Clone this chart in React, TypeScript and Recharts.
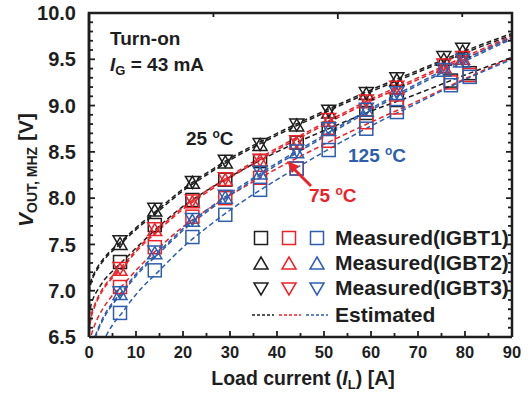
import React from "react";
import { ComposedChart, Line, Scatter, XAxis, YAxis } from "recharts";

// measured load currents [A]
const triCurrent = [6.6, 14, 22, 29, 36.4, 44.2, 51, 59, 65.5, 75.5, 79.5];
const sqCurrent = [6.6, 14, 22, 29, 36.4, 44.2, 51, 59, 65.5, 77, 81];

// measured V_OUT,MHZ [V]  (1 = IGBT1 squares, 2 = IGBT2 up-tri, 3 = IGBT3 down-tri)
const black1 = [7.31, 7.71, 7.98, 8.2, 8.4, 8.6, 8.75, 8.92, 9.06, 9.27, 9.35];
const black2 = [7.5, 7.86, 8.16, 8.38, 8.57, 8.78, 8.92, 9.12, 9.27, 9.49, 9.58];
const black3 = [7.54, 7.89, 8.18, 8.41, 8.59, 8.8, 8.95, 9.14, 9.3, 9.53, 9.62];
const red1 = [7.04, 7.47, 7.8, 8.0, 8.22, 8.32, 8.62, 8.82, 8.98, 9.25, 9.33];
const red2 = [7.22, 7.65, 7.95, 8.19, 8.4, 8.59, 8.83, 9.03, 9.18, 9.41, 9.5];
const red3 = [7.25, 7.68, 7.98, 8.22, 8.42, 8.62, 8.86, 9.06, 9.21, 9.45, 9.53];
const blue1 = [6.76, 7.22, 7.58, 7.82, 8.09, 8.32, 8.52, 8.75, 8.93, 9.22, 9.31];
const blue2 = [6.96, 7.4, 7.75, 8.0, 8.26, 8.49, 8.73, 8.94, 9.12, 9.37, 9.47];
const blue3 = [6.99, 7.43, 7.78, 8.03, 8.29, 8.52, 8.76, 8.97, 9.15, 9.4, 9.5];

// estimated curves
const estCurrent = [0, 0.5, 1, 2, 3, 5, 7, 10, 15, 20, 25, 30, 40, 50, 60, 70, 80, 90];
const estBlack1 = [6.72, 6.86, 6.93, 7.02, 7.1, 7.21, 7.31, 7.46, 7.7, 7.91, 8.08, 8.23, 8.5, 8.73, 8.94, 9.13, 9.33, 9.52];
const estBlack2 = [6.97, 7.1, 7.16, 7.25, 7.32, 7.43, 7.52, 7.66, 7.87, 8.08, 8.25, 8.41, 8.68, 8.92, 9.15, 9.36, 9.57, 9.76];
const estBlack3 = [6.99, 7.12, 7.18, 7.27, 7.34, 7.45, 7.54, 7.68, 7.89, 8.1, 8.27, 8.43, 8.7, 8.94, 9.17, 9.38, 9.59, 9.78];
const estRed1 = [6.35, 6.52, 6.6, 6.72, 6.81, 6.95, 7.05, 7.22, 7.47, 7.69, 7.87, 8.03, 8.32, 8.58, 8.82, 9.05, 9.29, 9.52];
const estRed2 = [6.55, 6.72, 6.8, 6.92, 7.01, 7.14, 7.24, 7.42, 7.66, 7.88, 8.06, 8.22, 8.52, 8.79, 9.05, 9.28, 9.51, 9.73];
const estRed3 = [6.57, 6.74, 6.82, 6.94, 7.03, 7.16, 7.26, 7.44, 7.68, 7.9, 8.08, 8.24, 8.54, 8.81, 9.07, 9.3, 9.53, 9.75];
const estBlue1 = [5.85, 6.07, 6.17, 6.33, 6.45, 6.63, 6.76, 6.96, 7.22, 7.47, 7.68, 7.87, 8.2, 8.5, 8.78, 9.03, 9.28, 9.5];
const estBlue2 = [6.15, 6.35, 6.44, 6.58, 6.69, 6.85, 6.97, 7.16, 7.41, 7.65, 7.85, 8.03, 8.36, 8.66, 8.95, 9.22, 9.48, 9.72];
const estBlue3 = [6.17, 6.37, 6.46, 6.6, 6.71, 6.87, 6.99, 7.18, 7.43, 7.67, 7.87, 8.05, 8.38, 8.68, 8.97, 9.24, 9.5, 9.74];

const xTicks = [0, 10, 20, 30, 40, 50, 60, 70, 80, 90];
const xMinor = [5, 15, 25, 35, 45, 55, 65, 75, 85];
const yTicks = [6.5, 7.0, 7.5, 8.0, 8.5, 9.0, 9.5, 10.0];
const yMinor = [6.6, 6.7, 6.8, 6.9, 7.1, 7.2, 7.3, 7.4, 7.6, 7.7, 7.8, 7.9, 8.1, 8.2, 8.3, 8.4, 8.6, 8.7, 8.8, 8.9, 9.1, 9.2, 9.3, 9.4, 9.6, 9.7, 9.8, 9.9];

const BLACK = "#1e1e1e";
const RED = "#ec2229";
const BLUE = "#2d5eae";
const FONT = "'Liberation Sans', Arial, Helvetica, sans-serif";

const X_GAP = 9; // label gap below x axis
const Y_GAP = 13; // label gap left of y axis
const MAJ = 6;
const MIN = 4;
const TW = 1.8;

const estData = estCurrent.map((I, i) => ({
  I,
  b1: estBlack1[i], b2: estBlack2[i], b3: estBlack3[i],
  r1: estRed1[i], r2: estRed2[i], r3: estRed3[i],
  u1: estBlue1[i], u2: estBlue2[i], u3: estBlue3[i],
}));

const pts = (xs: number[], ys: number[]) => xs.map((I, i) => ({ I, v: ys[i] }));

const isMajorX = (v: number) => xTicks.includes(v);
const isMajorY = (v: number) => yTicks.some((t) => Math.abs(t - v) < 1e-6);

// inward tick marks drawn with the tick labels
const BottomTick = (p: any) => {
  const v = p.payload.value;
  const maj = isMajorX(v);
  const y0 = p.y - X_GAP;
  return (
    <g>
      <line x1={p.x} x2={p.x} y1={y0} y2={y0 - (maj ? MAJ : MIN)} stroke={BLACK} strokeWidth={TW} />
      {maj && (
        <text x={p.x} y={p.y} dy="0.71em" textAnchor="middle" fill={BLACK} fontSize={16.5} fontWeight={700} fontFamily={FONT}>
          {v}
        </text>
      )}
    </g>
  );
};
const LeftTick = (p: any) => {
  const v = p.payload.value;
  const maj = isMajorY(v);
  const x0 = p.x + Y_GAP;
  return (
    <g>
      <line x1={x0} x2={x0 + (maj ? MAJ : MIN)} y1={p.y} y2={p.y} stroke={BLACK} strokeWidth={TW} />
      {maj && (
        <text x={p.x} y={p.y} dy="0.355em" textAnchor="end" fill={BLACK} fontSize={20} fontWeight={700} fontFamily={FONT}>
          {v.toFixed(1)}
        </text>
      )}
    </g>
  );
};
const TopTick = (p: any) => {
  const maj = isMajorX(p.payload.value);
  return <line x1={p.x} x2={p.x} y1={p.y} y2={p.y + (maj ? MAJ : MIN)} stroke={BLACK} strokeWidth={TW} />;
};
const RightTick = (p: any) => {
  const maj = isMajorY(p.payload.value);
  return <line x1={p.x} x2={p.x - (maj ? MAJ : MIN)} y1={p.y} y2={p.y} stroke={BLACK} strokeWidth={TW} />;
};

const Square = ({ cx, cy, color }: any) => (
  <rect x={cx - 6.5} y={cy - 6.5} width={13} height={13} fill="none" stroke={color} strokeWidth={1.5} />
);
const TriUp = ({ cx, cy, color }: any) => (
  <polygon points={`${cx},${cy - 7} ${cx + 7},${cy + 5} ${cx - 7},${cy + 5}`} fill="none" stroke={color} strokeWidth={1.5} />
);
const TriDown = ({ cx, cy, color }: any) => (
  <polygon points={`${cx - 7},${cy - 5} ${cx + 7},${cy - 5} ${cx},${cy + 7}`} fill="none" stroke={color} strokeWidth={1.5} />
);

const series = [
  { key: "b", color: BLACK, m: [black1, black2, black3] },
  { key: "r", color: RED, m: [red1, red2, red3] },
  { key: "u", color: BLUE, m: [blue1, blue2, blue3] },
];

const frame = { stroke: BLACK, strokeWidth: 2.5 };

export default function App() {
  return (
    <div style={{ position: "absolute", left: 0, top: 0, width: 528, height: 393, background: "#fff", fontFamily: FONT }}>
      <ComposedChart width={528} height={393} data={estData} margin={{ top: 13, right: 16, bottom: 0, left: 0 }}>
        <XAxis xAxisId="top" type="number" domain={[0, 90]} allowDataOverflow ticks={[...xTicks, ...xMinor]} interval={0} orientation="top" mirror height={1} tickLine={false} tickSize={0} tickMargin={0} axisLine={false} tick={<TopTick />} />
        <YAxis yAxisId="right" type="number" domain={[6.5, 10]} allowDataOverflow ticks={[...yTicks, ...yMinor]} interval={0} orientation="right" mirror width={1} tickLine={false} tickSize={0} tickMargin={0} axisLine={false} tick={<RightTick />} />

        <XAxis
          xAxisId="x"
          dataKey="I"
          type="number"
          domain={[0, 90]}
          allowDataOverflow
          ticks={[...xTicks, ...xMinor]}
          interval={0}
          height={56}
          tickLine={false}
          tickSize={0}
          tickMargin={X_GAP}
          axisLine={frame}
          tick={<BottomTick />}
        />
        <YAxis
          yAxisId="y"
          type="number"
          domain={[6.5, 10]}
          allowDataOverflow
          ticks={[...yTicks, ...yMinor]}
          interval={0}
          width={89}
          tickLine={false}
          tickSize={0}
          tickMargin={Y_GAP}
          axisLine={frame}
          tick={<LeftTick />}
        />

        {series.map((s) =>
          [1, 2, 3].map((n) => (
            <Line
              key={`${s.key}${n}`}
              xAxisId="x"
              yAxisId="y"
              dataKey={`${s.key}${n}`}
              type="monotone"
              stroke={s.color}
              strokeWidth={1.5}
              strokeDasharray="5 3"
              dot={false}
              activeDot={false}
              isAnimationActive={false}
            />
          ))
        )}

        {series.map((s) => (
          <Scatter key={`${s.key}sq`} xAxisId="x" yAxisId="y" data={pts(sqCurrent, s.m[0])} dataKey="v" isAnimationActive={false}
            shape={(p: any) => <Square cx={p.cx} cy={p.cy} color={s.color} />} />
        ))}
        {series.map((s) => (
          <Scatter key={`${s.key}up`} xAxisId="x" yAxisId="y" data={pts(triCurrent, s.m[1])} dataKey="v" isAnimationActive={false}
            shape={(p: any) => <TriUp cx={p.cx} cy={p.cy} color={s.color} />} />
        ))}
        {series.map((s) => (
          <Scatter key={`${s.key}dn`} xAxisId="x" yAxisId="y" data={pts(triCurrent, s.m[2])} dataKey="v" isAnimationActive={false}
            shape={(p: any) => <TriDown cx={p.cx} cy={p.cy} color={s.color} />} />
        ))}
      </ComposedChart>

      <svg width={528} height={393} style={{ position: "absolute", left: 0, top: 0, pointerEvents: "none" }} fontFamily={FONT} fontWeight={700}>
        {/* top and right edges of the frame */}
        <polyline points="89,337 89,13 512,13 512,337" fill="none" stroke={BLACK} strokeWidth={2.5} />

        {/* axis titles */}
        <text x={303} y={385} textAnchor="middle" fontSize={19.5} fill={BLACK}>
          Load current (<tspan fontStyle="italic">I</tspan>
          <tspan fontSize={13} dy={4}>L</tspan>
          <tspan dy={-4}>) [A]</tspan>
        </text>
        <text transform="rotate(-90 33 170)" x={33} y={170} textAnchor="middle" fontSize={21} fill={BLACK}>
          <tspan fontStyle="italic">V</tspan>
          <tspan fontSize={14} dy={4}>OUT, MHZ</tspan>
          <tspan dy={-4}> [V]</tspan>
        </text>

        {/* condition */}
        <text x={110} y={45} fontSize={19} fill={BLACK}>Turn-on</text>
        <text x={110} y={71} fontSize={19} fill={BLACK}>
          <tspan fontStyle="italic">I</tspan>
          <tspan fontSize={13} dy={4}>G</tspan>
          <tspan dy={-4}> = 43 mA</tspan>
        </text>

        {/* temperature labels */}
        <text x={186} y={145} fontSize={19} fill={BLACK}>
          25 <tspan fontSize={12} dy={-7}>o</tspan><tspan dy={7}>C</tspan>
        </text>
        <text x={348} y={162} fontSize={19} fill={BLUE}>
          125 <tspan fontSize={12} dy={-7}>o</tspan><tspan dy={7}>C</tspan>
        </text>
        <text x={309} y={202} fontSize={19} fill={RED}>
          75 <tspan fontSize={12} dy={-7}>o</tspan><tspan dy={7}>C</tspan>
        </text>
        <line x1={311} y1={186} x2={293} y2={168} stroke={RED} strokeWidth={3} />
        <polygon points="287,161 299,166 292,173" fill={RED} />

        {/* legend */}
        {[BLACK, RED, BLUE].map((c, i) => (
          <g key={c}>
            <Square cx={261 + i * 28} cy={238} color={c} />
            <TriUp cx={261 + i * 28} cy={264} color={c} />
            <TriDown cx={261 + i * 28} cy={288} color={c} />
            <line x1={252 + i * 27} x2={274 + i * 27} y1={315} y2={315} stroke={c} strokeWidth={1.5} strokeDasharray="3 2" />
          </g>
        ))}
        <text x={335} y={245} fontSize={21} fill={BLACK}>Measured(IGBT1)</text>
        <text x={335} y={270} fontSize={21} fill={BLACK}>Measured(IGBT2)</text>
        <text x={335} y={295} fontSize={21} fill={BLACK}>Measured(IGBT3)</text>
        <text x={335} y={322} fontSize={21} fill={BLACK}>Estimated</text>
      </svg>
    </div>
  );
}
